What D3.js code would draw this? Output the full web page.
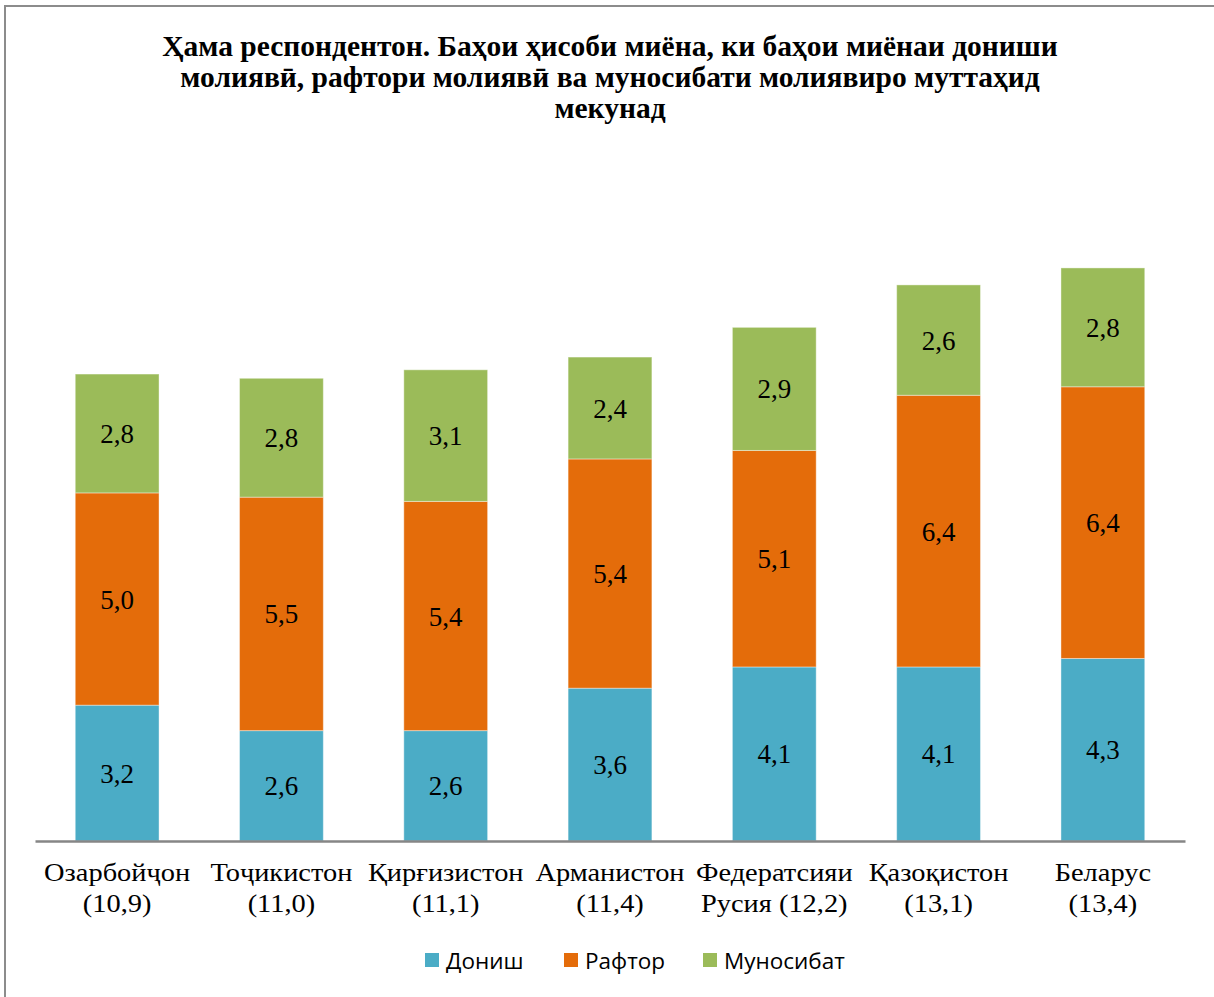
<!DOCTYPE html>
<html>
<head>
<meta charset="utf-8">
<title>Ҳама респондентон</title>
<script src="https://cdn.jsdelivr.net/npm/d3@7"></script>
<style>
  body { margin: 0; background: #fff; }
  svg { display: block; }
</style>
</head>
<body>
<div id="vis"></div>
<script>
// data
const countries = ["Озарбойҷон", "Тоҷикистон", "Қирғизистон", "Арманистон", "Федератсияи", "Қазоқистон", "Беларус"];
const countryLine2 = ["(10,9)", "(11,0)", "(11,1)", "(11,4)", "Русия (12,2)", "(13,1)", "(13,4)"];
const donish = [3.2, 2.6, 2.6, 3.6, 4.1, 4.1, 4.3];
const raftor = [5.0, 5.5, 5.4, 5.4, 5.1, 6.4, 6.4];
const munosibat = [2.8, 2.8, 3.1, 2.4, 2.9, 2.6, 2.8];
const seriesNames = ["Дониш", "Рафтор", "Муносибат"];
const colors = ["#4BACC6", "#E46C0A", "#9BBB59"];
const titleLines = [
  "Ҳама респондентон. Баҳои ҳисоби миёна, ки баҳои миёнаи дониши",
  "молиявӣ, рафтори молиявӣ ва муносибати молиявиро муттаҳид",
  "мекунад"
];

const serif = "'Liberation Serif', 'Times New Roman', serif";
const width = 1214, height = 997;
const svg = d3.select("#vis").append("svg").attr("width", width).attr("height", height);

// frame
svg.append("path")
  .attr("d", `M5,${height + 5} L5,6 L${width + 5},6`)
  .attr("fill", "none").attr("stroke", "#8c8c8c").attr("stroke-width", 2);

// title
svg.append("g").selectAll("text").data(titleLines).enter().append("text")
  .attr("x", 610).attr("y", (d, i) => 56 + i * 31)
  .attr("text-anchor", "middle")
  .attr("font-family", serif)
  .attr("font-weight", "bold").attr("font-size", 29.5)
  .text(d => d);

const rows = countries.map((c, i) => ({ c, vals: [donish[i], raftor[i], munosibat[i]] }));

const x = d3.scaleBand().domain(countries).range([35, 1185]).paddingInner(0.49).paddingOuter(0.245);
const y = d3.scaleLinear().domain([0, 16]).range([841, 841 - 16 * 42.45]);

const stack = d3.stack().keys([0, 1, 2]).value((d, k) => d.vals[k]);
const layers = stack(rows);

const g = svg.append("g");
layers.forEach((layer, k) => {
  const lg = g.append("g");
  lg.selectAll("rect").data(layer).enter().append("rect")
    .attr("x", d => x(d.data.c))
    .attr("width", x.bandwidth())
    .attr("y", d => y(d[1]))
    .attr("height", d => y(d[0]) - y(d[1]))
    .attr("fill", colors[k])
    .attr("stroke", "#fff").attr("stroke-opacity", 0.4).attr("stroke-width", 1);
  lg.selectAll("text").data(layer).enter().append("text")
    .attr("x", d => x(d.data.c) + x.bandwidth() / 2)
    .attr("y", d => (y(d[0]) + y(d[1])) / 2 + 9.5)
    .attr("text-anchor", "middle")
    .attr("font-family", serif)
    .attr("font-size", 27)
    .text(d => d3.format(".1f")(d[1] - d[0]).replace(".", ","));
});

// x axis
const xAxis = svg.append("g").attr("transform", "translate(0,841)")
  .call(d3.axisBottom(x).tickSize(0).tickFormat(""));
xAxis.select(".domain").attr("stroke", "#868686").attr("stroke-width", 2.5);

// category labels (the original text is a bit stretched sideways)
const labels = svg.append("g").selectAll("text").data(countries).enter().append("text")
  .attr("transform", d => `translate(${x(d) + x.bandwidth() / 2},0) scale(1.16,1)`)
  .attr("text-anchor", "middle")
  .attr("font-family", serif)
  .attr("font-size", 24.5);
labels.append("tspan")
  .attr("x", 0).attr("y", 881)
  .text(d => d);
labels.append("tspan")
  .attr("x", 0).attr("y", 912)
  .text((d, i) => countryLine2[i]);

// legend
const legendX = [425, 564, 703];
const legend = svg.append("g").selectAll("g").data(seriesNames).enter().append("g")
  .attr("transform", (d, i) => `translate(${legendX[i]},953)`);
legend.append("rect").attr("width", 14).attr("height", 14).attr("fill", (d, i) => colors[i]);
legend.append("text").attr("x", 21).attr("y", 16)
  .attr("font-family", "'Open Sans', 'Noto Sans', sans-serif").attr("font-size", 22.5)
  .text(d => d);
</script>
</body>
</html>
